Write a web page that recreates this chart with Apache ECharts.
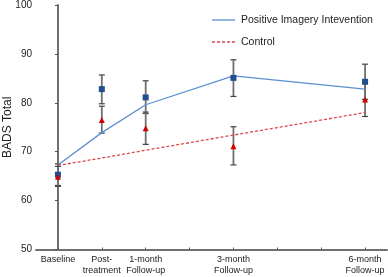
<!DOCTYPE html>
<html>
<head>
<meta charset="utf-8">
<script src="https://cdn.jsdelivr.net/npm/echarts@6/dist/echarts.min.js"></script>
<style>html,body{margin:0;padding:0;background:#fff;}#c{width:388px;height:277px;}</style>
</head>
<body>
<div id="c"></div>
<script>
const categories = ['Baseline', 'Post-\ntreatment', '1-month\nFollow-up', '3-month\nFollow-up', '6-month\nFollow-up'];
const timePos = [0, 1, 2, 4, 7];
const yTicks = [50, 60, 70, 80, 90, 100];
const imageryMean = [65.3, 82.8, 81.1, 85.1, 84.3];
const imageryLow = [63.1, 79.8, 77.8, 81.3, 80.7];
const imageryHigh = [67.5, 85.7, 84.5, 88.8, 87.9];
const controlMean = [64.9, 76.5, 74.8, 71.1, 80.7];
const controlLow = [62.9, 73.8, 71.5, 67.3, 77.2];
const controlHigh = [67.0, 79.3, 78.1, 75.1, 84.2];
const imageryFit = [67.3, 73.9, 79.6, 85.5, 82.8];
const controlFit = [67.2, 68.7, 70.3, 73.4, 78.0];
const legendNames = ['Positive Imagery Intevention', 'Control'];

const FONT = 'Liberation Sans, Arial, sans-serif';
const BLUE = '#5b8fd2';
const RED = '#d9494a';
const pairs = (xs, ys) => xs.map((x, i) => [x, ys[i]]);
const errData = [];
timePos.forEach((x, i) => {
  errData.push([x, imageryLow[i], imageryHigh[i]]);
  errData.push([x, controlLow[i], controlHigh[i]]);
});

function renderErr(params, api) {
  const x = api.value(0);
  const lo = api.coord([x, api.value(1)]);
  const hi = api.coord([x, api.value(2)]);
  const w = 3;
  const style = { stroke: '#707070', lineWidth: 1.8 };
  const cap = { stroke: '#444', lineWidth: 1.2 };
  return {
    type: 'group',
    children: [
      { type: 'line', shape: { x1: lo[0], y1: lo[1], x2: hi[0], y2: hi[1] }, style },
      { type: 'line', shape: { x1: lo[0] - w, y1: lo[1], x2: lo[0] + w, y2: lo[1] }, style: cap },
      { type: 'line', shape: { x1: hi[0] - w, y1: hi[1], x2: hi[0] + w, y2: hi[1] }, style: cap }
    ]
  };
}

const chart = echarts.init(document.getElementById('c'), null, { renderer: 'canvas' });
chart.setOption({
  animation: false,
  backgroundColor: '#fff',
  textStyle: { fontFamily: FONT },
  grid: { left: 36, right: 1, top: 5, bottom: 27.5, containLabel: false, outerBoundsMode: 'none' },
  graphic: [
    { type: 'line', shape: { x1: 212, y1: 20, x2: 235, y2: 20 }, style: { stroke: BLUE, lineWidth: 1.3 } },
    { type: 'text', x: 241, y: 20, style: { text: legendNames[0], font: '10.5px ' + FONT, fill: '#222', textVerticalAlign: 'middle', verticalAlign: 'middle' } },
    { type: 'line', shape: { x1: 212, y1: 42, x2: 235, y2: 42 }, style: { stroke: RED, lineWidth: 1.3, lineDash: [3, 2] } },
    { type: 'text', x: 241, y: 42, style: { text: legendNames[1], font: '10.5px ' + FONT, fill: '#222', textVerticalAlign: 'middle', verticalAlign: 'middle' } }
  ],
  xAxis: {
    type: 'value',
    min: -0.5,
    max: 7.5,
    splitLine: { show: false },
    axisLine: { lineStyle: { color: '#707070', width: 2 } },
    axisTick: { show: true, inside: true, length: 2, lineStyle: { color: '#555', width: 1 }, customValues: [0, 1, 2, 3, 4, 5, 6, 7] },
    axisLabel: {
      customValues: timePos,
      fontSize: 9,
      color: '#222',
      lineHeight: 11,
      margin: 5,
      fontFamily: FONT,
      formatter: function (v) {
        const i = timePos.indexOf(v);
        return i >= 0 ? categories[i] : '';
      }
    }
  },
  yAxis: {
    type: 'value',
    min: 50,
    max: 100,
    interval: 10,
    name: 'BADS Total',
    nameLocation: 'middle',
    nameGap: 22,
    nameMoveOverlap: false,
    nameTextStyle: { fontSize: 12, color: '#222', fontFamily: FONT },
    splitLine: { show: false },
    axisLine: { show: true, lineStyle: { color: '#707070', width: 2 } },
    axisTick: { show: true, length: 3, lineStyle: { color: '#555', width: 1 } },
    axisLabel: { fontSize: 10, color: '#222', margin: 4, fontFamily: FONT, formatter: v => yTicks.includes(v) ? String(v) : '' }
  },
  series: [
    {
      type: 'custom',
      name: 'err',
      renderItem: renderErr,
      data: errData,
      encode: { x: 0, y: [1, 2] },
      z: 1,
      silent: true
    },
    {
      type: 'line',
      name: legendNames[0],
      data: pairs(timePos, imageryFit),
      symbol: 'none',
      lineStyle: { color: BLUE, width: 1.3 },
      itemStyle: { color: BLUE },
      z: 3
    },
    {
      type: 'line',
      name: legendNames[1],
      data: pairs(timePos, controlFit),
      symbol: 'none',
      lineStyle: { color: RED, width: 1.3, type: [3, 2] },
      itemStyle: { color: RED },
      z: 3
    },
    {
      type: 'scatter',
      name: 'imgPts',
      data: pairs(timePos, imageryMean),
      symbol: 'rect',
      symbolSize: 6,
      itemStyle: { color: '#1f4f8f', opacity: 1 },
      z: 4
    },
    {
      type: 'scatter',
      name: 'ctlPts',
      data: pairs(timePos, controlMean),
      symbol: 'triangle',
      symbolSize: 6,
      itemStyle: { color: '#d00000', opacity: 1 },
      z: 4
    }
  ]
});
</script>
</body>
</html>
